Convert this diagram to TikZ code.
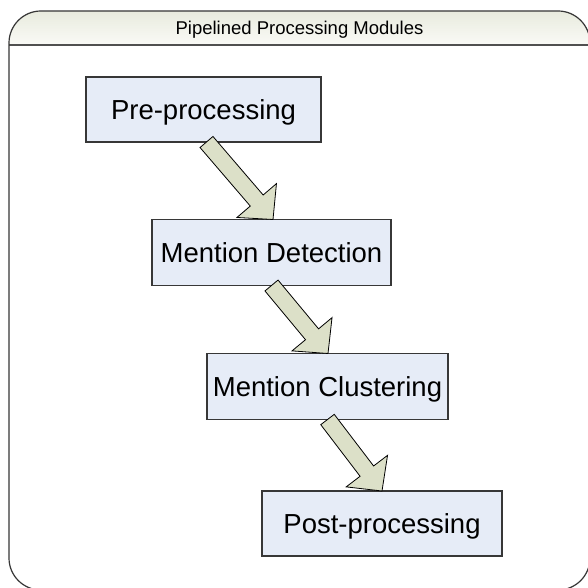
\documentclass[tikz,border=0pt]{standalone}
\usepackage{fontspec}
\setmainfont{Liberation Sans}
\usetikzlibrary{calc}
\definecolor{boxfill}{RGB}{230,236,247}
\definecolor{arrowfill}{RGB}{220,224,200}
\definecolor{hdtop}{RGB}{232,235,222}
\definecolor{hdbot}{RGB}{250,250,246}
\definecolor{edgecol}{RGB}{55,55,55}
\definecolor{hdline}{RGB}{80,80,80}
\newcommand{\blockarr}[3]{%
  \coordinate (#3) at ($(#2)!25pt!(#1)$);
  \draw[blockarrow]
    ($(#1)!8.5pt!90:(#2)$) -- ($(#3)!8.5pt!90:(#2)$) -- ($(#3)!26pt!90:(#2)$)
    -- (#2) -- ($(#3)!26pt!-90:(#2)$) -- ($(#3)!8.5pt!-90:(#2)$)
    -- ($(#1)!8.5pt!-90:(#2)$) -- cycle;}
\begin{document}
\begin{tikzpicture}[x=1pt,y=-1pt,
  stagebox/.style={draw=edgecol, fill=boxfill, line width=1.3pt, inner sep=0pt, outer sep=0pt,
    font=\fontsize{27.5}{30}\selectfont, text height=19.7pt, text depth=0pt},
  titletext/.style={inner sep=0pt, font=\fontsize{18.5}{21}\selectfont, text height=13.3pt, text depth=0pt},
  blockarrow/.style={draw=black, fill=arrowfill, line width=0.8pt, line join=miter}]
\useasboundingbox (0,0) rectangle (588,588);
\fill[white] (0,0) rectangle (588,588);
% frame with header
\begin{scope}
  \clip[rounded corners=32pt] (9,11) rectangle (590,590);
  \fill[top color=hdtop, bottom color=hdbot] (9,11) rectangle (590,45);
\end{scope}
\draw[hdline, line width=2pt] (9,45) -- (590,45);
\draw[edgecol, line width=1.2pt, rounded corners=32pt] (9,11) rectangle (590,590);
\node[titletext] (title) at (299.5,27.5) {Pipelined Processing Modules};
% stages
\node[stagebox, minimum width=235pt, minimum height=65pt] (b1) at (203.5,109.5) {Pre-processing};
\node[stagebox, minimum width=239pt, minimum height=66pt] (b2) at (271.5,252.5) {Mention Detection};
\node[stagebox, minimum width=241pt, minimum height=66pt] (b3) at (327.5,386.5) {Mention Clustering};
\node[stagebox, minimum width=240pt, minimum height=65pt] (b4) at (382,523.5) {Post-processing};
% arrows
\coordinate (t1) at ($(b1.south)+(3pt,0)$);
\coordinate (h1) at ($(b2.north west)+(121pt,0)$);
\coordinate (t2) at (b2.south);
\coordinate (h2) at ($(b3.north west)+(121pt,0)$);
\coordinate (t3) at (b3.south);
\coordinate (h3) at ($(b4.north west)+(120pt,0)$);
\blockarr{t1}{h1}{m1}
\blockarr{t2}{h2}{m2}
\blockarr{t3}{h3}{m3}
\end{tikzpicture}
\end{document}
